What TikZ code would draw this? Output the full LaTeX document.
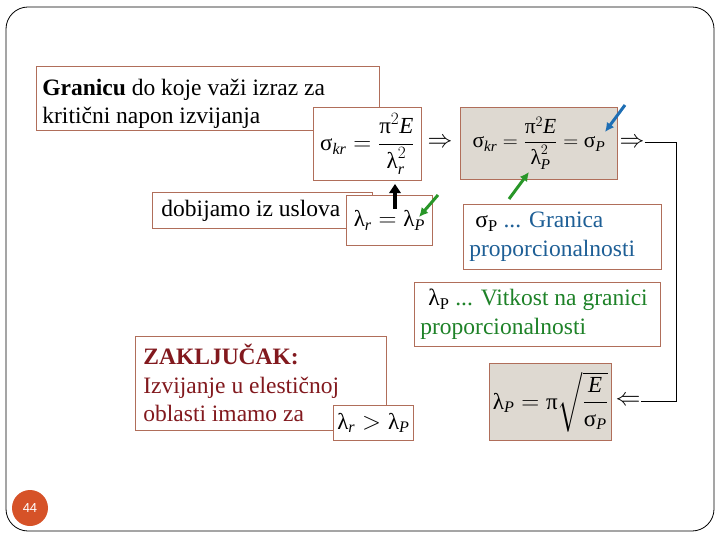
\documentclass[tikz,border=0pt]{standalone}
\usepackage{amsmath}
\usepackage{fontspec}
\setmainfont{Liberation Serif}
\setsansfont{Liberation Sans}
\usetikzlibrary{arrows.meta,positioning,calc}
\definecolor{boxBrown}{RGB}{176,110,90}
\definecolor{boxGray}{RGB}{222,217,209}
\definecolor{txtRed}{RGB}{130,25,30}
\definecolor{txtBlue}{RGB}{30,95,150}
\definecolor{txtGreen}{RGB}{30,130,40}
\definecolor{arrGreen}{RGB}{40,150,40}
\definecolor{arrBlue}{RGB}{30,110,180}
\definecolor{pageOrange}{RGB}{214,82,40}
\newcommand{\gsig}{\textrm{σ}}
\newcommand{\glam}{\textrm{λ}}
\newcommand{\gpi}{\textrm{π}}

\begin{document}
\begin{tikzpicture}[x=1pt,y=-1pt,
        box/.style={draw=boxBrown,line width=0.8pt,inner sep=0pt,fill=white},
        txt/.style={box,align=flush left,inner xsep=6pt,anchor=north west,font=\fontsize{23.5}{28.5}\selectfont},
        fbox/.style={box,anchor=north west,font=\fontsize{23}{26}\selectfont},
        note/.style={-{Latex[length=3.2mm,width=3.2mm]},line width=3pt},
        dbl/.style={font=\fontsize{27}{30}\selectfont,inner sep=0pt}
      ]
        \useasboundingbox (0,0) rectangle (720,540);
        \draw[rounded corners=22pt,line width=0.8pt] (6,7) rectangle (714,531);
        % upper row
        \node[txt,text width=331pt,minimum height=64pt] (granica) at (36,66)
          {\rule{0pt}{27pt}\textbf{Granicu} do koje važi izraz za\\kritični napon izvijanja};
        \node[fbox,minimum width=108pt,minimum height=73pt] (skr) at (313,107)
          {$\gsig_{\textit{kr}} = \dfrac{\gpi^2\textit{E}}{\glam_{\textit{r}}^2}$};
        \node[dbl] (imp1) at (440,143) {$\Rightarrow$};
        \node[fbox,fill=boxGray,minimum width=157pt,minimum height=72pt,font=\fontsize{21.5}{24}\selectfont] (skrp) at (460,107)
          {$\gsig_{\textit{kr}} = \dfrac{\gpi^2\textit{E}}{\glam_{\textit{P}}^2} = \gsig_{\textit{P}}$};
        \node[dbl] (imp2) at (632,143) {$\Rightarrow$};
        % middle row
        \node[txt,inner xsep=0pt,minimum width=220pt,minimum height=36pt] (uslov) at (152,192)
          {\hspace*{7pt}dobijamo iz uslova\hspace*{30pt}};
        \node[fbox,minimum width=86pt,minimum height=50pt] (lrlp) at (346,195)
          {$\glam_{\textit{r}} = \glam_{\textit{P}}$};
        \node[txt,text width=186pt,minimum height=65pt,text=txtBlue] (sigp) at (463,204)
          {\hspace*{6pt}\textcolor{black}{\gsig\textsubscript{P}} ... Granica\\proporcionalnosti};
        \node[txt,text width=234pt,minimum height=64pt,text=txtGreen] (lamp) at (414,282)
          {\hspace*{8pt}\textcolor{black}{\glam\textsubscript{P}} ... Vitkost na granici\\proporcionalnosti};
        % lower row
        \node[fbox,fill=boxGray,minimum width=122pt,minimum height=77pt] (lpform) at (489,363)
          {$\glam_{\textit{P}} = \gpi\sqrt{\dfrac{\textit{E}}{\gsig_{\textit{P}}}}$};
        \node[dbl] (back) at (628,401) {$\Leftarrow$};
        \node[txt,inner xsep=8pt,text width=235pt,minimum height=94pt,text=txtRed] (zakljucak) at (135,336)
          {\textbf{ZAKLJUČAK:}\\Izvijanje u elestičnoj\\oblasti imamo za};
        \node[fbox,minimum width=80pt,minimum height=35pt] (lrgp) at (333,405)
          {$\glam_{\textit{r}} > \glam_{\textit{P}}$};
        % page number
        \node[circle,fill=pageOrange,minimum size=36pt,inner sep=0pt,text=white,font=\sffamily\fontsize{13}{15}\selectfont] (page) at (30,508) {44};
        % connectors
        \coordinate (turn) at (676,143);
        \draw[line width=1pt] (imp2.east) -- (turn) |- (back.east);
        \coordinate (upBase) at (395,209);
        \draw[-{Triangle[length=3.2mm,width=4mm]},line width=4pt] (upBase) -- (395,184);
        \coordinate (gA) at (438,195);
        \coordinate (gAtip) at (419,217);
        \draw[note,arrGreen] (gA) -- (gAtip);
        \coordinate (gB) at (509,199);
        \coordinate (gBtip) at (529,172);
        \draw[note,arrGreen] (gB) -- (gBtip);
        \coordinate (bA) at (625,105);
        \coordinate (bAtip) at (605,132);
        \draw[note,arrBlue] (bA) -- (bAtip);
      \end{tikzpicture}
\end{document}
